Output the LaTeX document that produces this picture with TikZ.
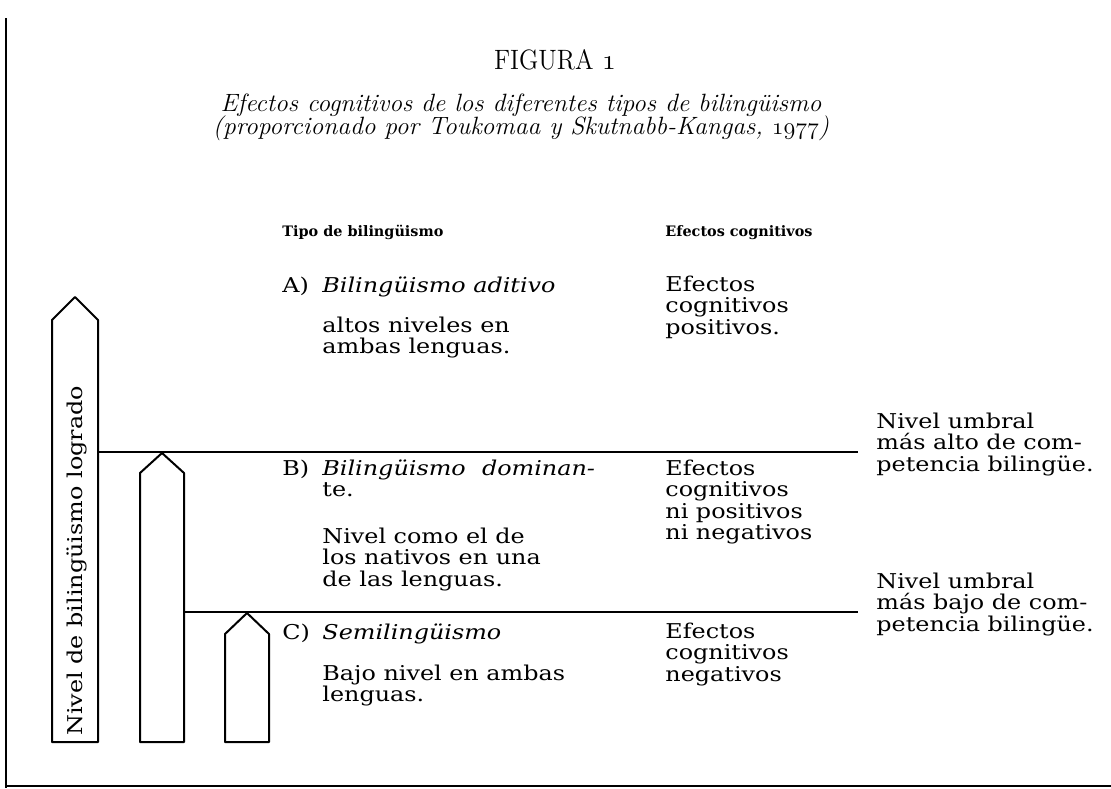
\documentclass[tikz,border=0pt]{standalone}
\usepackage{fontspec}
\usepackage{tikz}
\newfontfamily\cuerpo[FakeStretch=1.17]{DejaVu Serif}
\newfontfamily\cabecera{DejaVu Serif}
\newfontfamily\titulo[FakeStretch=0.9]{Latin Modern Roman}
\newfontfamily\subtitulo[FakeStretch=1.02]{Latin Modern Roman}
\newcommand\osn[1]{{\usefont{OML}{cmm}{m}{it}#1}}
\setlength{\lineskiplimit}{-20pt}

\begin{document}
\begin{tikzpicture}[x=0.5pt,y=-0.5pt,
          texto/.style={anchor=base west,inner sep=0pt,align=left,
            font=\cuerpo\fontsize{10.2pt}{10.75pt}\selectfont},
          cab/.style={anchor=base west,inner sep=0pt,
            font=\cabecera\bfseries\fontsize{7.2pt}{8pt}\selectfont},
          pilar/.style={draw,line width=1pt,line join=round,fill=white},
          umbral/.style={draw,line width=0.8pt},
          borde/.style={draw,line width=0.9pt}]
  \fill[white] (0,0) rectangle (1111,788);
  \useasboundingbox (0,0) rectangle (1111,788);
  \draw[borde] (6,18) -- (6,788);
  \draw[borde] (6,786) -- (1111,786);
  % titulo (base = ultima linea)
  \node[anchor=base,inner sep=0pt,font=\titulo\fontsize{14pt}{16pt}\selectfont] (fig) at (555,69) {FIGURA \osn{1}};
  \node[anchor=base,inner sep=0pt,align=center,
    font=\subtitulo\itshape\fontsize{12.5pt}{11.2pt}\selectfont] (sub) at (521,134)
    {Efectos cognitivos de los diferentes tipos de bilingüismo\\(proporcionado por Toukomaa y Skutnabb-Kangas, \osn{1977})};
  % cabeceras
  \node[cab] (hTipo) at (282,236) {Tipo de bilingüismo};
  \node[cab] (hEfec) at (665,236) {Efectos cognitivos};
  % pilares
  \coordinate (p1sw) at (52,742); \coordinate (p1se) at (98,742);
  \coordinate (p2sw) at (140,742); \coordinate (p2se) at (184,742);
  \coordinate (p3sw) at (225,742); \coordinate (p3se) at (269,742);
  \draw[pilar] (p1sw) -- (52,320) -- (75,297) coordinate (p1tip) -- (98,320) -- (p1se) -- cycle;
  \draw[pilar] (p2sw) -- (140,473) -- (162,453) coordinate (p2tip) -- (184,473) -- (p2se) -- cycle;
  \draw[pilar] (p3sw) -- (225,634) -- (247,613) coordinate (p3tip) -- (269,634) -- (p3se) -- cycle;
  \node[texto,rotate=90] (eje) at (82,736) {Nivel de bilingüismo logrado};
  % umbrales
  \coordinate (finAlto) at (858,452);
  \coordinate (finBajo) at (858,612);
  \draw[umbral] (p1se |- finAlto) -- (finAlto);
  \draw[umbral] (p2se |- finBajo) -- (finBajo);
  \node[texto] (umbAlto) at (876,471) {Nivel umbral\\más alto de com-\\petencia bilingüe.};
  \node[texto] (umbBajo) at (876,631) {Nivel umbral\\más bajo de com-\\petencia bilingüe.};
  % A
  \node[texto] (A) at (282,292) {A)};
  \node[texto] (Atit) at (322,292) {\itshape Bilingüismo aditivo};
  \node[texto] (Adesc) at (322,353.5) {altos niveles en\\ambas lenguas.};
  \node[texto] (Aefec) at (665,334) {Efectos\\cognitivos\\positivos.};
  % B
  \node[texto] (B) at (282,475) {B)};
  \node[texto] (Btit) at (322,496.5) {\itshape Bilingüismo\hspace{0.8em}dominan-\\te.};
  \node[texto] (Bdesc) at (322,586) {Nivel como el de\\los nativos en una\\de las lenguas.};
  \node[texto] (Befec) at (665,539.5) {Efectos\\cognitivos\\ni positivos\\ni negativos};
  % C
  \node[texto] (C) at (282,639) {C)};
  \node[texto] (Ctit) at (322,639) {\itshape Semilingüismo};
  \node[texto] (Cdesc) at (322,701.5) {Bajo nivel en ambas\\lenguas.};
  \node[texto] (Cefec) at (665,681) {Efectos\\cognitivos\\negativos};
\end{tikzpicture}
\end{document}
